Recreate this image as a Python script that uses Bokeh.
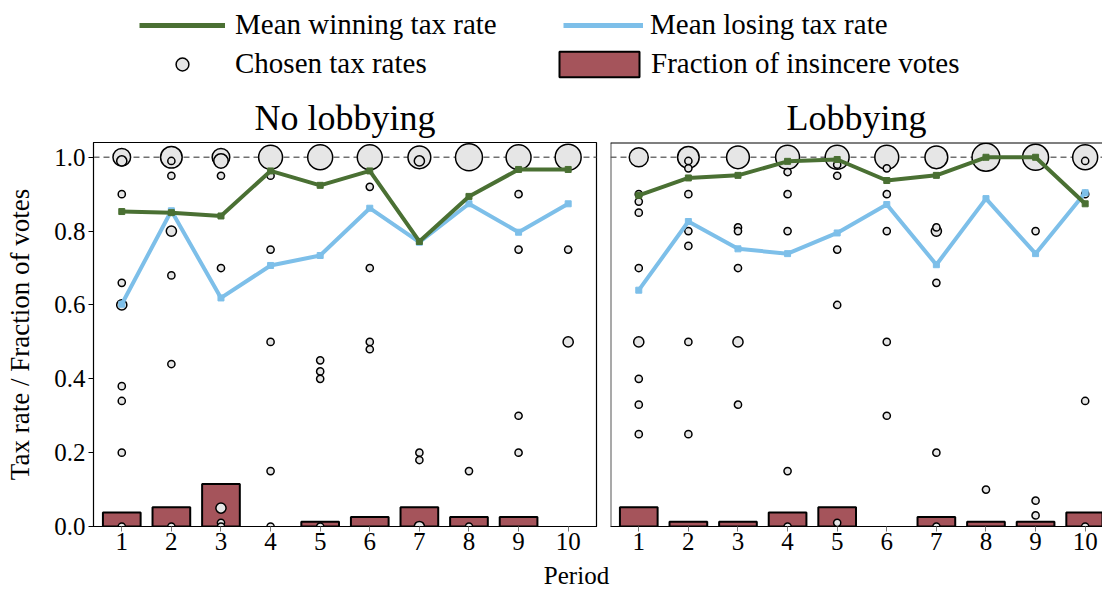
import math
from bokeh.plotting import figure
from bokeh.layouts import column, row
from bokeh.models import (ColumnDataSource, Span, Legend, LegendItem, FixedTicker,
                          PrintfTickFormatter, Label)
from bokeh.embed import file_html
from bokeh.resources import INLINE

# ---------------- data ----------------
periods = [1, 2, 3, 4, 5, 6, 7, 8, 9, 10]
y_ticks = [0.0, 0.2, 0.4, 0.6, 0.8, 1.0]

nolob_win = [0.853, 0.850, 0.841, 0.963, 0.924, 0.963, 0.772, 0.894, 0.967, 0.967]
nolob_lose = [0.602, 0.855, 0.619, 0.707, 0.734, 0.862, 0.770, 0.874, 0.797, 0.874]
nolob_insincere = [0.038, 0.052, 0.115, 0.0, 0.013, 0.026, 0.052, 0.026, 0.026, 0.0]

lob_win = [0.897, 0.944, 0.951, 0.989, 0.994, 0.937, 0.951, 1.0, 1.0, 0.874]
lob_lose = [0.640, 0.826, 0.752, 0.739, 0.795, 0.872, 0.709, 0.888, 0.739, 0.904]
lob_insincere = [0.052, 0.013, 0.013, 0.038, 0.052, 0.0, 0.026, 0.013, 0.013, 0.038]

# chosen tax rates: period, rate, number of subjects choosing it
nolob_ch_period = [1, 1, 1, 1, 1, 1, 1, 1, 1,
                   2, 2, 2, 2, 2, 2, 2,
                   3, 3, 3, 3, 3, 3, 3,
                   4, 4, 4, 4, 4, 4,
                   5, 5, 5, 5, 5,
                   6, 6, 6, 6, 6,
                   7, 7, 7, 7, 7,
                   8, 8, 8,
                   9, 9, 9, 9, 9,
                   10, 10, 10]
nolob_ch_rate = [1.0, 0.99, 0.90, 0.66, 0.60, 0.38, 0.34, 0.20, 0.0,
                 1.0, 0.99, 0.95, 0.80, 0.68, 0.44, 0.0,
                 1.0, 0.99, 0.95, 0.70, 0.05, 0.01, 0.0,
                 1.0, 0.95, 0.75, 0.50, 0.15, 0.0,
                 1.0, 0.45, 0.42, 0.40, 0.0,
                 1.0, 0.92, 0.70, 0.50, 0.48,
                 1.0, 0.99, 0.20, 0.18, 0.0,
                 1.0, 0.15, 0.0,
                 1.0, 0.90, 0.75, 0.30, 0.20,
                 1.0, 0.75, 0.50]
nolob_ch_count = [6, 2, 1, 1, 2, 1, 1, 1, 1,
                  9, 1, 1, 2, 1, 1, 1,
                  6, 4, 1, 1, 2, 1, 1,
                  11, 1, 1, 1, 1, 1,
                  12, 1, 1, 1, 1,
                  12, 1, 1, 1, 1,
                  10, 2, 1, 1, 2,
                  14, 1, 1,
                  12, 1, 1, 1, 1,
                  13, 1, 2]

lob_ch_period = [1, 1, 1, 1, 1, 1, 1, 1, 1,
                 2, 2, 2, 2, 2, 2, 2, 2,
                 3, 3, 3, 3, 3, 3,
                 4, 4, 4, 4, 4, 4,
                 5, 5, 5, 5, 5, 5,
                 6, 6, 6, 6, 6, 6,
                 7, 7, 7, 7, 7, 7,
                 8, 8,
                 9, 9, 9, 9,
                 10, 10, 10, 10, 10]
lob_ch_rate = [1.0, 0.90, 0.88, 0.85, 0.70, 0.50, 0.40, 0.33, 0.25,
               1.0, 0.99, 0.97, 0.90, 0.80, 0.76, 0.50, 0.25,
               1.0, 0.81, 0.80, 0.70, 0.50, 0.33,
               1.0, 0.96, 0.90, 0.80, 0.15, 0.0,
               1.0, 0.98, 0.95, 0.75, 0.60, 0.01,
               1.0, 0.97, 0.90, 0.80, 0.50, 0.30,
               1.0, 0.81, 0.80, 0.66, 0.20, 0.0,
               1.0, 0.10,
               1.0, 0.80, 0.07, 0.03,
               1.0, 0.99, 0.90, 0.34, 0.0]
lob_ch_count = [7, 1, 1, 1, 1, 2, 1, 1, 1,
                9, 1, 1, 1, 1, 1, 1, 1,
                10, 1, 1, 1, 2, 1,
                11, 1, 1, 1, 1, 1,
                11, 1, 1, 1, 1, 1,
                11, 1, 1, 1, 1, 1,
                10, 1, 2, 1, 1, 1,
                15, 1,
                13, 1, 1, 1,
                12, 1, 1, 1, 1]

# ---------------- style ----------------
FONT = "Liberation Serif"
GREEN = "#4a7033"
BLUE = "#7dbfe9"
BAR = "#a5545b"
CFILL = "#e6e6e6"
X0, PXU = 0.43, 49.6          # x-range start and pixels per period
Y_END = 1.04
LEFT_W, RIGHT_W = 610, 492
LB_L, LB_R = 93, 14
LEG_H = 86
MB_TOP, FRAME_H, MB_BOT = 56, 384, 34
ROW_H = MB_TOP + FRAME_H + MB_BOT
PER_H = 590 - LEG_H - ROW_H


def style_x_axis(p):
    ax = p.xaxis[0]
    ax.ticker = FixedTicker(ticks=periods)
    ax.major_label_text_font = FONT
    ax.major_label_text_font_size = "25px"
    ax.major_label_text_color = "black"
    ax.major_label_standoff = 1
    ax.major_tick_in = 0
    ax.major_tick_out = 5
    ax.major_tick_line_color = "#777777"
    ax.minor_tick_line_color = None
    ax.axis_line_color = "black"


def panel(title, win, lose, insinc, ch_p, ch_r, ch_n, width, x_end, left):
    p = figure(width=width, height=ROW_H, x_range=(X0, x_end), y_range=(0, Y_END),
               toolbar_location=None, output_backend="svg",
               y_axis_location="left" if left else None,
               min_border_top=MB_TOP, min_border_bottom=MB_BOT,
               min_border_left=LB_L if left else 0,
               min_border_right=LB_R if left else 0)
    p.grid.visible = False
    p.title.text = title
    p.title.align = "center"
    p.title.text_font = FONT
    p.title.text_font_size = "36px"
    p.title.text_font_style = "normal"
    p.title.text_color = "black"
    p.title.standoff = 10
    style_x_axis(p)
    if left:
        ay = p.yaxis[0]
        ay.ticker = FixedTicker(ticks=y_ticks)
        ay.formatter = PrintfTickFormatter(format="%.1f")
        ay.major_label_text_font = FONT
        ay.major_label_text_font_size = "25px"
        ay.major_label_text_color = "black"
        ay.major_label_standoff = 3
        ay.major_tick_in = 0
        ay.major_tick_out = 5
        ay.minor_tick_line_color = None
        ay.axis_line_color = "black"
        ay.axis_label = "Tax rate / Fraction of votes"
        ay.axis_label_text_font = FONT
        ay.axis_label_text_font_size = "27px"
        ay.axis_label_text_font_style = "normal"
        ay.axis_label_text_color = "black"
        ay.axis_label_standoff = 16
        p.outline_line_color = "black"
        p.outline_line_width = 1.2
    else:
        p.outline_line_color = None
        p.add_layout(Span(location=X0, dimension="height", line_color="#555555",
                          line_width=2))
        p.add_layout(Span(location=Y_END, dimension="width", line_color="black",
                          line_width=2))

    p.add_layout(Span(location=1.0, dimension="width", line_color="#707070",
                      line_width=1.4, line_dash="6 4", level="underlay"))

    # bars (fraction of insincere votes)
    bx = [x for x, v in zip(periods, insinc) if v > 0]
    bt = [v for v in insinc if v > 0]
    p.vbar(x=bx, top=bt, bottom=0, width=0.76, fill_color=BAR,
           line_color="black", line_width=2)

    # chosen tax rates, bubble area ~ count; draw largest first
    order = sorted(range(len(ch_n)), key=lambda i: -ch_n[i])
    src = ColumnDataSource(dict(
        x=[ch_p[i] for i in order],
        y=[ch_r[i] for i in order],
        s=[7.2 * math.sqrt(ch_n[i]) for i in order]))
    p.scatter("x", "y", size="s", source=src, marker="circle", fill_color=CFILL,
              line_color="black", line_width=1.5)

    # mean lines
    p.line(periods, lose, line_color=BLUE, line_width=4)
    p.scatter(periods, lose, marker="square", size=6, color=BLUE)
    p.line(periods, win, line_color=GREEN, line_width=4)
    p.scatter(periods, win, marker="square", size=6, color=GREEN)
    return p


left = panel("No lobbying", nolob_win, nolob_lose, nolob_insincere,
             nolob_ch_period, nolob_ch_rate, nolob_ch_count,
             LEFT_W, X0 + (LEFT_W - LB_L - LB_R) / PXU, True)
right = panel("Lobbying", lob_win, lob_lose, lob_insincere,
              lob_ch_period, lob_ch_rate, lob_ch_count,
              RIGHT_W, X0 + RIGHT_W / PXU, False)

# ---------------- legend strip ----------------
TOTAL_W = LEFT_W + RIGHT_W
leg = figure(width=TOTAL_W, height=LEG_H, x_range=(0, 1), y_range=(0, 1),
             toolbar_location=None, output_backend="svg", min_border=0)
leg.axis.visible = False
leg.grid.visible = False
leg.outline_line_color = None
nan_src = ColumnDataSource(dict(x=[float("nan")], y=[float("nan")]))
r_win = leg.line("x", "y", source=nan_src, line_color=GREEN, line_width=5)
r_lose = leg.line("x", "y", source=nan_src, line_color=BLUE, line_width=5)
r_ch = leg.scatter("x", "y", source=nan_src, marker="circle", fill_color=CFILL,
                   line_color="black", line_width=1.5)
r_bar = leg.vbar(x="x", top="y", source=nan_src, width=1, fill_color=BAR,
                 line_color="black", line_width=2)


def add_leg(renderer, label, loc, gw, standoff):
    lg = Legend(items=[LegendItem(label=label, renderers=[renderer])],
                location=loc, orientation="horizontal",
                glyph_width=gw, glyph_height=32, label_standoff=standoff,
                padding=0, margin=0, spacing=0,
                border_line_color=None, background_fill_alpha=0,
                label_text_font=FONT, label_text_font_size="29px",
                label_text_color="black")
    leg.add_layout(lg, "center")


add_leg(r_win, "Mean winning tax rate", (139, 45), 86, 10)
add_leg(r_lose, "Mean losing tax rate", (563, 45), 80, 7)
add_leg(r_ch, "Chosen tax rates", (139, 6), 86, 10)
add_leg(r_bar, "Fraction of insincere votes", (549, 6), 100, 2)

# ---------------- shared x-axis title ----------------
per = figure(width=TOTAL_W, height=PER_H, x_range=(0, TOTAL_W), y_range=(0, PER_H),
             toolbar_location=None, output_backend="svg", min_border=0)
per.axis.visible = False
per.grid.visible = False
per.outline_line_color = None
per.add_layout(Label(x=576, y=PER_H / 2, text="Period", text_align="center",
                     text_baseline="middle", text_font=FONT,
                     text_font_size="25px", text_color="black"))

layout = column(leg, row(left, right), per)
open("out.html", "w").write(file_html(layout, INLINE))
